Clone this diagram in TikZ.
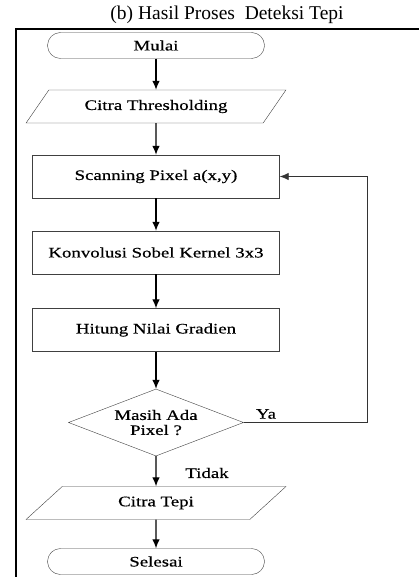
\documentclass[tikz,border=0pt]{standalone}
\usepackage{fontspec}
\setmainfont{Liberation Serif}
\newfontfamily\widefont[FakeStretch=1.3,FakeBold=0.5]{Liberation Serif}
\usepackage{tikz}
\usetikzlibrary{arrows.meta,shapes.geometric}
\tikzset{font=\widefont\fontsize{14.5}{15}\selectfont}
\tikzset{box/.style={draw=black!75, minimum width=247pt, minimum height=43pt, inner sep=0pt},
  term/.style={draw=black!75, rounded corners=13pt, minimum width=217pt, minimum height=26pt, inner sep=0pt},
  io/.style={draw=black!75, trapezium, trapezium left angle=41, trapezium right angle=139,
    trapezium stretches=true, minimum width=260pt, minimum height=33pt, inner sep=0pt},
  dec/.style={draw=black!75, diamond, aspect=2.6, minimum width=175pt, minimum height=67pt,
    inner sep=0pt, align=center},
  flow/.style={-{Latex[length=9pt,width=7.5pt]}, line width=1.1pt}}

\begin{document}
\begin{tikzpicture}[x=1pt,y=-1pt]
  \useasboundingbox (0,0) rectangle (419,577);
  \node[font=\fontsize{19.5}{20}\selectfont, anchor=base] (judul) at (227,20)
    {(b) Hasil Proses\ \ Deteksi Tepi};
  \draw[line width=1.2pt] (419,29) -- (16,29) -- (16,577);

  \node[term] (mulai) at (156,45.5) {Mulai};
  \node[io] (thres) at (156,106.5) {Citra Thresholding};
  \node[box] (scan) at (156,176.5) {Scanning Pixel a(x,y)};
  \node[box] (konv) at (156,252.5) {Konvolusi Sobel Kernel 3x3};
  \node[box] (grad) at (156,330) {Hitung Nilai Gradien};
  \node[dec] (cek) at (156,422.5) {Masih Ada\\Pixel ?};
  \node[io] (tepi) at (156,503) {Citra Tepi};
  \node[term] (selesai) at (156,561.5) {Selesai};

  \draw[flow] (mulai) -- (thres);
  \draw[flow] (thres) -- (scan);
  \draw[flow] (scan) -- (konv);
  \draw[flow] (konv) -- (grad);
  \draw[flow] (grad) -- (cek);
  \draw[flow] (cek) -- (tepi);
  \draw[flow] (tepi) -- (selesai);
% loop balik
  \draw[flow, line width=0.9pt, draw=black!80] (cek.east) -- ++(124,0) |- (scan.east);
  \node (ya) at (266,414) {Ya};
  \node (tidak) at (207,473) {Tidak};
\end{tikzpicture}
\end{document}
